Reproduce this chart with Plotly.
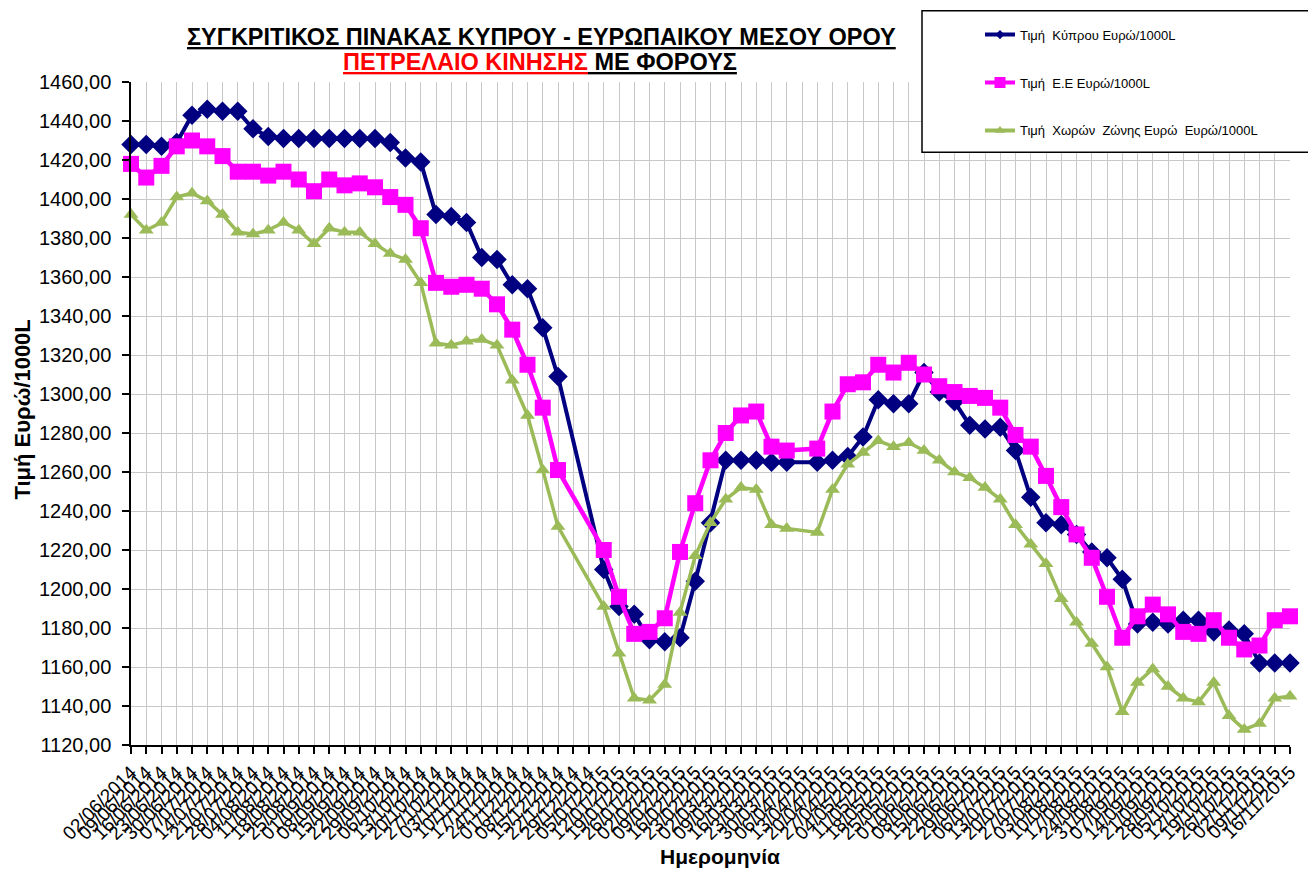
import plotly.graph_objects as go

dates = [
    "02/06/2014", "09/06/2014", "16/06/2014", "23/06/2014", "30/06/2014",
    "07/07/2014", "14/07/2014", "21/07/2014", "28/07/2014", "04/08/2014",
    "11/08/2014", "18/08/2014", "25/08/2014", "01/09/2014", "08/09/2014",
    "15/09/2014", "22/09/2014", "29/09/2014", "06/10/2014", "13/10/2014",
    "20/10/2014", "27/10/2014", "03/11/2014", "10/11/2014", "17/11/2014",
    "24/11/2014", "01/12/2014", "08/12/2014", "15/12/2014", "22/12/2014",
    "29/12/2014", "05/01/2015", "12/01/2015", "19/01/2015", "26/01/2015",
    "02/02/2015", "09/02/2015", "16/02/2015", "23/02/2015", "02/03/2015",
    "09/03/2015", "16/03/2015", "23/03/2015", "30/03/2015", "06/04/2015",
    "13/04/2015", "20/04/2015", "27/04/2015", "04/05/2015", "11/05/2015",
    "18/05/2015", "25/05/2015", "01/06/2015", "08/06/2015", "15/06/2015",
    "22/06/2015", "29/06/2015", "06/07/2015", "13/07/2015", "20/07/2015",
    "27/07/2015", "03/08/2015", "10/08/2015", "17/08/2015", "24/08/2015",
    "31/08/2015", "07/09/2015", "14/09/2015", "21/09/2015", "28/09/2015",
    "05/10/2015", "12/10/2015", "19/10/2015", "26/10/2015", "02/11/2015",
    "09/11/2015", "16/11/2015",
]

cyprus = [
    1428, 1428, 1427, 1429, 1443, 1446, 1445, 1445, 1436, 1432,
    1431, 1431, 1431, 1431, 1431, 1431, 1431, 1429, 1421, 1419,
    1392, 1391, 1388, 1370, 1369, 1356, 1354, 1334, 1309, None,
    None, 1210, 1191, 1187, 1174, 1173, 1175, 1204, 1234, 1266,
    1266, 1266, 1265, 1265, None, 1265, 1266, 1268, 1278, 1297,
    1295, 1295, 1311, 1301, 1296, 1284, 1282, 1283, 1271, 1247,
    1234, 1233, 1228, 1219, 1216, 1205, 1182, 1183, 1182, 1184,
    1184, 1178, 1179, 1177, 1162, 1162, 1162,
]

eu = [
    1418, 1411, 1417, 1427, 1430, 1427, 1422, 1414, 1414, 1412,
    1414, 1410, 1404, 1410, 1407, 1408, 1406, 1401, 1397, 1385,
    1357, 1355, 1356, 1354, 1346, 1333, 1315, 1293, 1261, None,
    None, 1220, 1196, 1177, 1178, 1185, 1219, 1244, 1266, 1280,
    1289, 1291, 1273, 1271, None, 1272, 1291, 1305, 1306, 1315,
    1311, 1316, 1310, 1304, 1301, 1299, 1298, 1293, 1279, 1273,
    1258, 1242, 1228, 1216, 1196, 1175, 1186, 1192, 1187, 1178,
    1177, 1184, 1175, 1169, 1171, 1184, 1186,
]

eurozone = [
    1392, 1384, 1388, 1401, 1403, 1399, 1392, 1383, 1382, 1384,
    1388, 1384, 1377, 1385, 1383, 1383, 1377, 1372, 1369, 1357,
    1326, 1325, 1327, 1328, 1325, 1307, 1289, 1261, 1232, None,
    None, 1191, 1167, 1144, 1143, 1151, 1188, 1217, 1234, 1246,
    1252, 1251, 1233, 1231, None, 1229, 1251, 1264, 1270, 1276,
    1273, 1275, 1271, 1266, 1260, 1257, 1252, 1246, 1233, 1223,
    1213, 1195, 1183, 1172, 1160, 1137, 1152, 1159, 1150, 1144,
    1142, 1152, 1135, 1128, 1131, 1144, 1145,
]

names = [
    "Τιμή  Κύπρου Ευρώ/1000L",
    "Τιμή  Ε.Ε Ευρώ/1000L",
    "Τιμή  Χωρών  Ζώνης Ευρώ  Ευρώ/1000L",
]
colors = ["#000080", "#FF00FF", "#9BBB59"]
symbols = ["diamond", "square", "triangle-up"]
sizes = [15, 16, 13]
leg_sizes = [7, 11, 9]
widths = [4, 4.5, 3.5]
series = [cyprus, eu, eurozone]

FONT = "Liberation Sans, Arial, sans-serif"

fig = go.Figure()
for s, c, sym, sz, w in zip(series, colors, symbols, sizes, widths):
    fig.add_trace(go.Scatter(
        x=dates, y=s, mode="lines+markers", connectgaps=True,
        line=dict(color=c, width=w),
        marker=dict(symbol=sym, size=sz, color=c, line=dict(width=0)),
        cliponaxis=False, showlegend=False, hoverinfo="x+y",
    ))
for i, (n, c, sym, lsz) in enumerate(zip(names, colors, symbols, leg_sizes)):
    fig.add_trace(go.Scatter(
        x=[None], y=[None], mode="lines+markers", name=n,
        legendgroup="g%d" % i,
        line=dict(color=c, width=4),
        marker=dict(symbol=sym, size=lsz, color=c),
    ))

# page offset (body margin) compensation
OFF = 8
W, H = 1316 - OFF, 872 - OFF
L, T = 131 - OFF, 75 - OFF
R = W - (1290 - OFF)
B = H - (745 - OFF)
pw, ph = W - L - R, H - T - B


def px(xp):
    return (xp - OFF - L) / pw


def py(yp):
    return (H - B - (yp - OFF)) / ph


fig.add_shape(type="rect", xref="paper", yref="paper",
              x0=px(922), x1=px(1313), y0=py(146), y1=py(3),
              fillcolor="white", line=dict(color="black", width=1.5),
              layer="above")

fig.add_annotation(xref="paper", yref="paper", x=px(541), y=py(30),
                   text="<b><u>ΣΥΓΚΡΙΤΙΚΟΣ ΠΙΝΑΚΑΣ ΚΥΠΡΟΥ - ΕΥΡΩΠΑΙΚΟΥ ΜΕΣΟΥ ΟΡΟΥ</u></b>",
                   showarrow=False, font=dict(family=FONT, size=23.5, color="black"),
                   xanchor="center", yanchor="middle")
fig.add_annotation(xref="paper", yref="paper", x=px(540), y=py(55),
                   text="<b><span style='color:#FF0000'><u>ΠΕΤΡΕΛΑΙΟ ΚΙΝΗΣΗΣ</u></span><u> ΜΕ ΦΟΡΟΥΣ</u></b>",
                   showarrow=False, font=dict(family=FONT, size=23.5, color="black"),
                   xanchor="center", yanchor="middle")
fig.add_annotation(xref="paper", yref="paper", x=px(23), y=py(406),
                   text="<b>Τιμή Ευρώ/1000L</b>", textangle=-90,
                   showarrow=False, font=dict(family=FONT, size=22, color="black"),
                   xanchor="center", yanchor="middle", borderpad=0)
fig.add_annotation(xref="paper", yref="paper", x=px(720), y=py(858),
                   text="<b>Ημερομηνία</b>",
                   showarrow=False, font=dict(family=FONT, size=21, color="black"),
                   xanchor="center", yanchor="middle")

fig.update_layout(
    width=W, height=H,
    margin=dict(l=L, r=R, t=T, b=B, pad=0),
    paper_bgcolor="white", plot_bgcolor="white",
    font=dict(family=FONT, color="black"),
    separators=",.",
    showlegend=True,
    legend=dict(x=px(980), y=py(12), xanchor="left", yanchor="top",
                bgcolor="rgba(0,0,0,0)", borderwidth=0,
                font=dict(family=FONT, size=13, color="black"),
                tracegroupgap=28, itemwidth=30),
    xaxis=dict(type="category", range=[0, len(dates) - 1],
               tickmode="array", tickvals=dates, ticktext=dates,
               tickangle=-45, tickfont=dict(family=FONT, size=19, color="black"),
               ticks="outside", ticklen=7, tickcolor="black", tickwidth=1.5,
               showline=True, linecolor="black", linewidth=1.5,
               showgrid=True, gridcolor="#C8C8C8", gridwidth=1,
               zeroline=False, automargin=False),
    yaxis=dict(range=[1120, 1460], dtick=20, tick0=1120, tickformat=".2f",
               tickfont=dict(family=FONT, size=20, color="black"),
               ticks="outside", ticklen=7, tickcolor="black", tickwidth=1.5,
               ticklabelstandoff=7,
               showline=True, linecolor="black", linewidth=1.5,
               showgrid=True, gridcolor="#C8C8C8", gridwidth=1,
               zeroline=False, automargin=False),
)

fig.write_html("out.html")
